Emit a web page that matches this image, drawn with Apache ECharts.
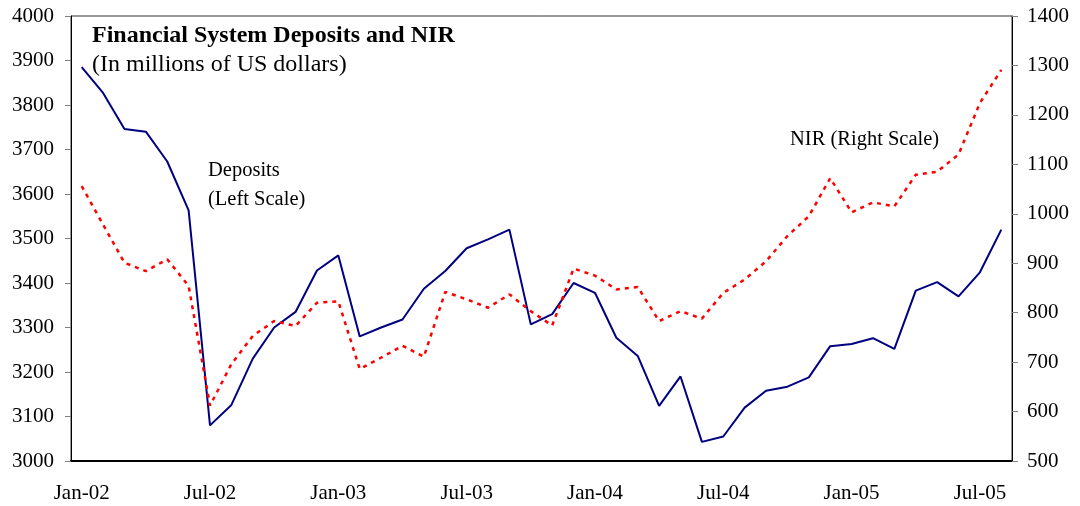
<!DOCTYPE html>
<html>
<head>
<meta charset="utf-8">
<script src="https://cdn.jsdelivr.net/npm/echarts@6/dist/echarts.min.js"></script>
<style>
  html, body {margin: 0; padding: 0; background: #fff;}
  #main {width: 1080px; height: 506px;}
</style>
</head>
<body>
<div id="main"></div>
<script>
// months, Jan-02 .. Aug-05
var months = ['Jan-02','Feb-02','Mar-02','Apr-02','May-02','Jun-02','Jul-02','Aug-02','Sep-02','Oct-02','Nov-02','Dec-02',
    'Jan-03','Feb-03','Mar-03','Apr-03','May-03','Jun-03','Jul-03','Aug-03','Sep-03','Oct-03','Nov-03','Dec-03',
    'Jan-04','Feb-04','Mar-04','Apr-04','May-04','Jun-04','Jul-04','Aug-04','Sep-04','Oct-04','Nov-04','Dec-04',
    'Jan-05','Feb-05','Mar-05','Apr-05','May-05','Jun-05','Jul-05','Aug-05'];

// deposits, left scale
var deposits = [3885, 3827, 3746, 3740, 3673, 3563, 3080, 3126, 3230, 3300, 3335, 3428,
    3462, 3280, 3300, 3318, 3387, 3427, 3478, 3498, 3520, 3307, 3330, 3400,
    3378, 3277, 3236, 3124, 3190, 3043, 3055, 3120, 3158, 3167, 3188, 3258,
    3263, 3276, 3252, 3383, 3402, 3370, 3424, 3520];

// NIR, right scale
var nir = [1056, 978, 901, 884, 908, 854, 612, 696, 753, 783, 773, 820,
    823, 686, 709, 733, 711, 842, 827, 810, 837, 803, 774, 889,
    875, 847, 852, 783, 803, 788, 840, 867, 904, 955, 995, 1072,
    1003, 1023, 1015, 1079, 1085, 1120, 1224, 1291];

var FONT = '"Liberation Serif", "Times New Roman", serif';

var myChart = echarts.init(document.getElementById('main'));

function plain(v) {
    return String(v);       //no thousands separator
}

myChart.setOption({
    animation: false,
    textStyle: {fontFamily: FONT},
    grid: {
        left: 71,
        right: 68,
        top: 16,
        bottom: 45,
        show: true,
        borderColor: '#333',
        borderWidth: 1
    },
    graphic: [
        {type: 'text', left: 92, top: 24,
            style: {text: 'Financial System Deposits and NIR', font: 'bold 24px ' + FONT, fill: '#000'}},
        {type: 'text', left: 92, top: 53,
            style: {text: '(In millions of US dollars)', font: '24px ' + FONT, fill: '#000'}},
        {type: 'text', left: 208, top: 160,
            style: {text: 'Deposits', font: '20.5px ' + FONT, fill: '#000'}},
        {type: 'text', left: 208, top: 189,
            style: {text: '(Left Scale)', font: '20.5px ' + FONT, fill: '#000'}},
        {type: 'text', left: 790, top: 129,
            style: {text: 'NIR (Right Scale)', font: '20.5px ' + FONT, fill: '#000'}}
    ],
    xAxis: {
        type: 'category',
        data: months,
        boundaryGap: true,
        axisLine: {lineStyle: {color: '#000', width: 2}},
        axisTick: {interval: 5, length: 6, lineStyle: {color: '#808080'}},
        axisLabel: {interval: 5, margin: 22, color: '#000', fontSize: 21, fontFamily: FONT},
        splitLine: {show: false}
    },
    yAxis: [
        {
            type: 'value',
            min: 3000,
            max: 4000,
            interval: 100,
            axisLine: {show: true, lineStyle: {color: '#000', width: 1}},
            axisTick: {show: true, length: 6, lineStyle: {color: '#808080'}},
            axisLabel: {margin: 17, color: '#000', fontSize: 21, fontFamily: FONT, formatter: plain},
            splitLine: {show: false}
        },
        {
            type: 'value',
            min: 500,
            max: 1400,
            interval: 100,
            position: 'right',
            axisLine: {show: true, lineStyle: {color: '#000', width: 1}},
            axisTick: {show: true, length: 6, lineStyle: {color: '#808080'}},
            axisLabel: {margin: 15, color: '#000', fontSize: 21, fontFamily: FONT, formatter: plain},
            splitLine: {show: false}
        }
    ],
    series: [
        {
            name: 'Deposits',
            type: 'line',
            yAxisIndex: 0,
            data: deposits,
            symbol: 'none',
            lineStyle: {color: '#000080', width: 2}
        },
        {
            name: 'NIR',
            type: 'line',
            yAxisIndex: 1,
            data: nir,
            symbol: 'none',
            lineStyle: {color: '#ff0000', width: 2.5, type: [4, 5]}
        }
    ]
});
</script>
</body>
</html>
